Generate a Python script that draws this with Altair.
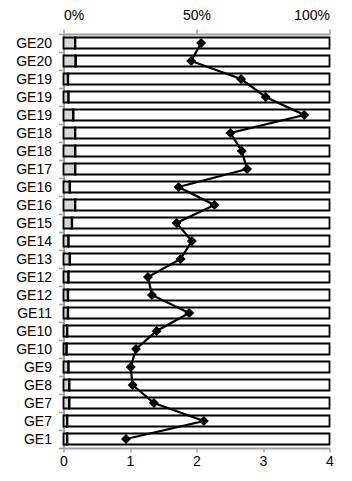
import altair as alt
import pandas as pd

labels = ["GE20", "GE20", "GE19", "GE19", "GE19", "GE18", "GE18", "GE17", "GE16", "GE16",
          "GE15", "GE14", "GE13", "GE12", "GE12", "GE11", "GE10", "GE10", "GE9", "GE8",
          "GE7", "GE7", "GE1"]
grey_share = [4.3, 4.5, 1.6, 1.8, 3.6, 4.3, 4.3, 4.3, 2.3, 4.3, 3.1, 1.8, 2.3, 1.8, 1.6,
              1.6, 1.3, 1.1, 1.8, 2.1, 2.1, 1.3, 1.3]
dark_share = [0.2] * 23
line_values = [2.07, 1.92, 2.67, 3.04, 3.62, 2.51, 2.68, 2.76, 1.73, 2.27, 1.70, 1.93, 1.76,
               1.27, 1.33, 1.89, 1.40, 1.09, 1.01, 1.04, 1.36, 2.11, 0.94]

rows = []
for i, (g, d) in enumerate(zip(grey_share, dark_share)):
    g0, g1 = 0.0, g / 100
    d1 = g1 + d / 100
    rows.append({"row": i, "seg": "grey", "start": g0, "end": g1})
    rows.append({"row": i, "seg": "dark", "start": g1, "end": d1})
    rows.append({"row": i, "seg": "white", "start": d1, "end": 1.0})
bars_df = pd.DataFrame(rows)
line_df = pd.DataFrame({"row": list(range(len(labels))), "value": line_values})

label_expr = "[" + ",".join("'%s'" % l for l in labels) + "][datum.value]"
FONT = "Liberation Sans"
AXIS_GREY = "#a0a0a0"

y_enc = alt.Y("row:O", title=None,
              axis=alt.Axis(labelExpr=label_expr, tickBand="extent", tickSize=5,
                            labelPadding=7, labelFontSize=14, labelFont=FONT,
                            labelColor="#000", domainColor=AXIS_GREY, tickColor=AXIS_GREY,
                            domainWidth=2, tickWidth=1.5))

bars = alt.Chart(bars_df).mark_bar(size=11, stroke="black", strokeWidth=1.8).encode(
    x=alt.X("start:Q", scale=alt.Scale(domain=[0, 1], nice=False), title=None,
            axis=alt.Axis(orient="top", values=[0, 0.5, 1], format=".0%", tickSize=5,
                          labelPadding=7, labelFontSize=14, labelFont=FONT, labelColor="#000",
                          domainColor=AXIS_GREY, tickColor=AXIS_GREY, domainWidth=2,
                          tickWidth=1.5, grid=False)),
    x2="end:Q",
    y=y_enc,
    color=alt.Color("seg:N", scale=alt.Scale(domain=["grey", "dark", "white"],
                                              range=["#d6d6d6", "#000000", "#ffffff"]),
                    legend=None),
)

x_line = alt.X("value:Q", scale=alt.Scale(domain=[0, 4], nice=False), title=None,
               axis=alt.Axis(orient="bottom", values=[0, 0.5, 1, 1.5, 2, 2.5, 3, 3.5, 4],
                             format="~g", tickSize=4, labelPadding=2, labelFontSize=14,
                             labelFont=FONT, labelColor="#000", domainColor=AXIS_GREY,
                             tickColor=AXIS_GREY, domainWidth=2, tickWidth=1.5, grid=False,
                             labelFlush=False))

line = alt.Chart(line_df).mark_line(color="black", strokeWidth=2.2).encode(
    x=x_line, y=alt.Y("row:O"), order="row:Q")
points = alt.Chart(line_df).mark_point(shape="diamond", filled=True, color="black",
                                       size=100, opacity=1).encode(
    x=alt.X("value:Q", scale=alt.Scale(domain=[0, 4], nice=False)), y=alt.Y("row:O"))

chart = alt.layer(bars, alt.layer(line, points)).resolve_scale(x="independent").properties(
    width=266, height=414,
    autosize=alt.AutoSizeParams(type="none"),
    padding={"left": 55.5, "top": 26, "right": 14, "bottom": 21},
).configure_view(stroke=None).configure_scale(bandPaddingInner=0, bandPaddingOuter=0)

chart.save("out.html", embed_options={"renderer": "svg", "actions": False})
